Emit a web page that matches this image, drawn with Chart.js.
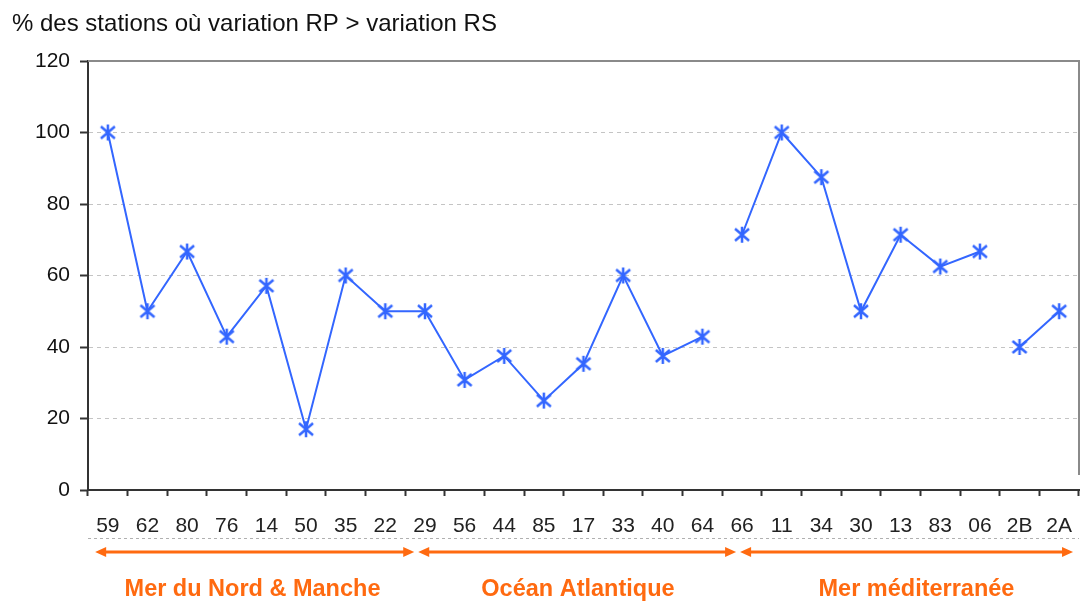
<!DOCTYPE html>
<html>
<head>
<meta charset="utf-8">
<script src="https://cdn.jsdelivr.net/npm/chart.js@4"></script>
<style>
	html, body { margin: 0; padding: 0; background: #fff; }
	#wrap { width: 1085px; height: 607px; }
</style>
</head>
<body>
<div id="wrap"><canvas id="chart"></canvas></div>
<script>
// departements, grouped by coast
const departements = ['59', '62', '80', '76', '14', '50', '35', '22', '29', '56', '44', '85', '17', '33', '40', '64', '66', '11', '34', '30', '13', '83', '06', '2B', '2A'];
const pctStations = [100, 50, 66.7, 42.9, 57.1, 17, 60, 50, 50, 30.8, 37.5, 25, 35.3, 60, 37.5, 42.9, 71.4, 100, 87.5, 50, 71.4, 62.5, 66.7, 40, 50];
// the line is broken after these departements
const breakAfter = ['64', '06'];
const yTicks = [0, 20, 40, 60, 80, 100, 120];
const seaNames = ['Mer du Nord & Manche', 'Océan Atlantique', 'Mer méditerranée'];

const BLUE = '#3366ff';
const ORANGE = '#ff6a10';
const FONT = "'Liberation Sans', Arial, sans-serif";

function asterisk() {
	let c = document.createElement('canvas');
	c.width = 18; c.height = 18;
	let g = c.getContext('2d');
	g.strokeStyle = BLUE;
	g.lineWidth = 2.5;
	g.beginPath();
	g.moveTo(9, 1); g.lineTo(9, 17);
	g.moveTo(2, 3); g.lineTo(16, 15);
	g.moveTo(16, 3); g.lineTo(2, 15);
	g.stroke();
	return c;
}

const decor = {
	id: 'decor',
	afterDraw(chart) {
		let ctx = chart.ctx;
		let a = chart.chartArea;
		let x = chart.scales.x;
		ctx.save();

		// grey frame top + right
		ctx.strokeStyle = '#8a8a8a';
		ctx.lineWidth = 2;
		ctx.beginPath();
		ctx.moveTo(a.left, a.top);
		ctx.lineTo(a.right, a.top);
		ctx.lineTo(a.right, a.bottom - 15);
		ctx.stroke();

		// dashed line under the labels
		ctx.strokeStyle = '#b0b0b0';
		ctx.lineWidth = 1;
		ctx.setLineDash([3, 3]);
		ctx.beginPath();
		ctx.moveTo(a.left, 538.5);
		ctx.lineTo(a.right, 538.5);
		ctx.stroke();
		ctx.setLineDash([]);

		// arrows for each sea
		let splits = [-0.37, 7.78, 15.9, 24.4];
		let labelAt = [3.65, 11.86, 20.4];
		let y = 552;
		ctx.strokeStyle = ORANGE;
		ctx.fillStyle = ORANGE;
		ctx.lineWidth = 3;
		for (let i = 0; i < seaNames.length; i++) {
			let x0 = x.getPixelForValue(splits[i]) + 2;
			let x1 = x.getPixelForValue(splits[i + 1]) - 2;
			ctx.beginPath();
			ctx.moveTo(x0 + 6, y);
			ctx.lineTo(x1 - 6, y);
			ctx.stroke();
			ctx.beginPath();
			ctx.moveTo(x0, y); ctx.lineTo(x0 + 11, y - 5); ctx.lineTo(x0 + 11, y + 5); ctx.closePath();
			ctx.moveTo(x1, y); ctx.lineTo(x1 - 11, y - 5); ctx.lineTo(x1 - 11, y + 5); ctx.closePath();
			ctx.fill();

			ctx.font = 'bold 23.5px ' + FONT;
			ctx.textAlign = 'center';
			ctx.textBaseline = 'middle';
			ctx.fillText(seaNames[i], x.getPixelForValue(labelAt[i]), 590);
		}
		ctx.restore();
	}
};

let ctx = document.getElementById('chart').getContext('2d');

var SeaChart = new Chart(ctx, {
	type: 'line',
	data: {
		labels: departements,
		datasets: [{
			label: '% des stations',
			data: pctStations,
			borderColor: BLUE,
			backgroundColor: BLUE,
			borderWidth: 2,
			fill: false,
			tension: 0,
			pointStyle: asterisk(),
			segment: {
				borderColor: c => breakAfter.includes(departements[c.p0DataIndex]) ? 'rgba(0,0,0,0)' : BLUE
			}
		}]
	},
	options: {
		responsive: true,
		maintainAspectRatio: false,
		animation: false,
		layout: { padding: { left: 12, right: 6, top: 0, bottom: 0 } },
		plugins: {
			legend: { display: false },
			tooltip: { enabled: false },
			title: {
				display: true,
				align: 'start',
				text: '% des stations où variation RP > variation RS',
				color: '#111',
				font: { family: FONT, size: 24, weight: 'normal', lineHeight: 1.2 },
				padding: { top: 9.6, bottom: 22.6 }
			}
		},
		scales: {
			x: {
				offset: true,
				grid: {
					offset: true,
					drawOnChartArea: false,
					drawTicks: true,
					tickLength: 6,
					tickColor: '#333',
					tickWidth: 2
				},
				border: { color: '#333', width: 2 },
				ticks: {
					color: '#222',
					font: { family: FONT, size: 21 },
					padding: 18,
					maxRotation: 0,
					autoSkip: false
				},
				afterFit: s => {
					s.height = 117;
					s.paddingLeft = 0;
					s.paddingRight = 0;
				}
			},
			y: {
				min: 0,
				max: 120,
				afterBuildTicks: s => { s.ticks = yTicks.map(v => ({ value: v })); },
				grid: {
					color: c => (c.tick && c.tick.value > 0 && c.tick.value < 120) ? '#c4c4c4' : 'rgba(0,0,0,0)',
					lineWidth: 1,
					tickLength: 8,
					tickColor: '#333',
					tickWidth: 2
				},
				border: { color: '#333', width: 2, dash: [4, 4] },
				ticks: {
					color: '#111',
					font: { family: FONT, size: 21 },
					padding: 10
				},
				afterFit: s => { s.width = 76; }
			}
		}
	},
	plugins: [decor]
});
</script>
</body>
</html>
